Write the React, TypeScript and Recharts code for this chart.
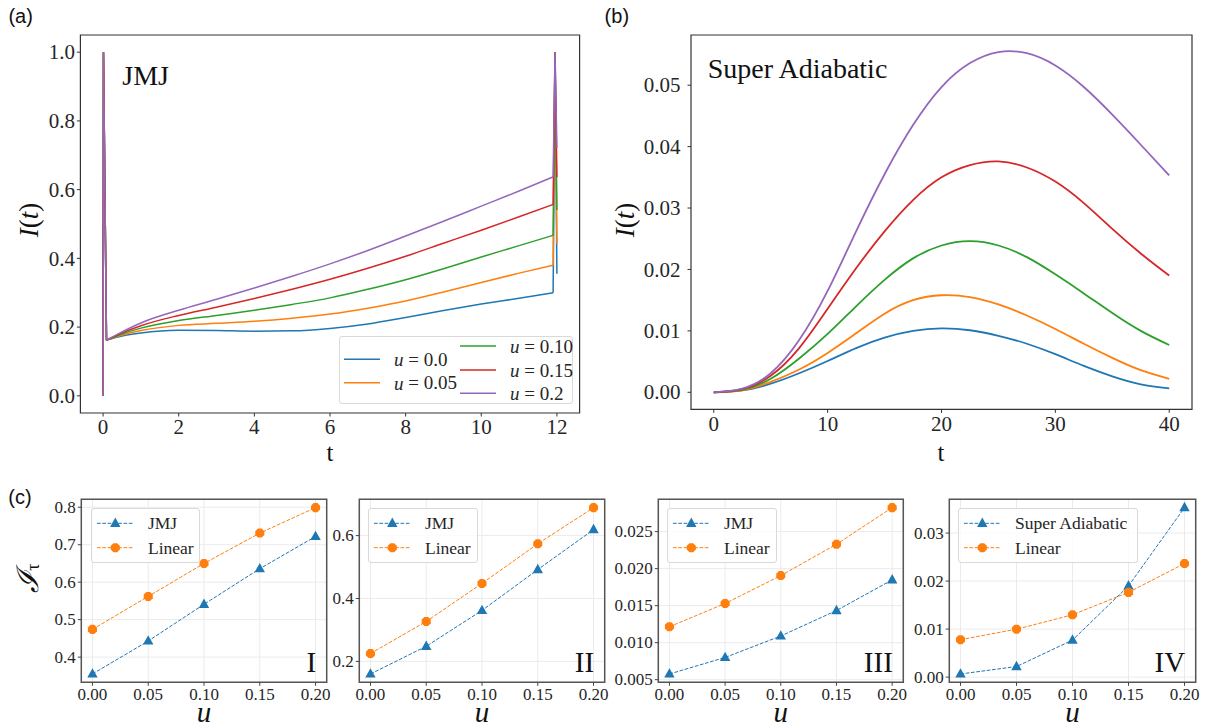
import React from 'react';
import { LineChart, Line, XAxis, YAxis, CartesianGrid, ReferenceArea, Legend } from 'recharts';

const BLUE = '#1f77b4';
const ORANGE = '#ff7f0e';
const GREEN = '#2ca02c';
const RED = '#d62728';
const PURPLE = '#9467bd';

const SERIF = '"Liberation Serif", "DejaVu Serif", serif';
const SANS = '"Liberation Sans", Arial, sans-serif';
const INK = '#262626';

// u values shared by all panels
const U_KEYS = ['u0', 'u05', 'u10', 'u15', 'u20'];
const U_TEXT = ['0.0', '0.05', '0.10', '0.15', '0.2'];
const U_COLORS = [BLUE, ORANGE, GREEN, RED, PURPLE];

// (a) JMJ protocol, I(t); the first three and last three points are the switching spikes
const T_JMJ = [0, 0.01, 0.09, 0.5, 1, 2, 3, 4, 5, 6, 7, 8, 9, 10, 11, 11.9, 11.95, 12];
const JMJ_U0 = [0, 1, 0.162, 0.174, 0.183, 0.191, 0.19, 0.188, 0.189, 0.196, 0.209, 0.228, 0.248, 0.267, 0.284, 0.3, 1, 0.355];
const JMJ_U05 = [0, 1, 0.162, 0.177, 0.19, 0.205, 0.211, 0.217, 0.226, 0.238, 0.255, 0.276, 0.302, 0.33, 0.357, 0.38, 1, 0.443];
const JMJ_U10 = [0, 1, 0.162, 0.18, 0.197, 0.219, 0.234, 0.249, 0.266, 0.285, 0.31, 0.338, 0.37, 0.404, 0.437, 0.467, 1, 0.541];
const JMJ_U15 = [0, 1, 0.162, 0.183, 0.204, 0.234, 0.258, 0.283, 0.31, 0.339, 0.371, 0.406, 0.444, 0.482, 0.521, 0.557, 1, 0.636];
const JMJ_U20 = [0, 1, 0.162, 0.186, 0.212, 0.249, 0.281, 0.314, 0.348, 0.384, 0.423, 0.465, 0.508, 0.552, 0.596, 0.637, 1, 0.722];
const SPIKE_HEAD = 2; // last index of the opening spike
const SPIKE_TAIL = 15; // first index of the closing spike

// (b) super adiabatic protocol, I(t)
const T_SA = [0, 2.5, 5, 7.5, 10, 12.5, 15, 17.5, 20, 22.5, 25, 27.5, 30, 32.5, 35, 37.5, 40];
const SA_U0 = [0, 0.0003, 0.0014, 0.0031, 0.0051, 0.0072, 0.0089, 0.01, 0.0104, 0.0101, 0.0092, 0.0079, 0.0062, 0.0043, 0.0026, 0.0013, 0.00065];
const SA_U05 = [0, 0.0003, 0.0017, 0.0037, 0.0064, 0.0096, 0.0128, 0.015, 0.0158, 0.0155, 0.0143, 0.0125, 0.0103, 0.0079, 0.0056, 0.0036, 0.0022];
const SA_U10 = [0, 0.0004, 0.0022, 0.0055, 0.0095, 0.014, 0.0183, 0.0218, 0.0239, 0.0246, 0.0239, 0.022, 0.0192, 0.0161, 0.0129, 0.01, 0.0077];
const SA_U15 = [0, 0.0005, 0.0027, 0.0072, 0.0136, 0.0202, 0.0262, 0.0313, 0.035, 0.037, 0.0376, 0.0366, 0.0343, 0.0308, 0.0266, 0.0226, 0.019];
const SA_U20 = [0, 0.0006, 0.0031, 0.0085, 0.0165, 0.0262, 0.0355, 0.0435, 0.0497, 0.0536, 0.0554, 0.0552, 0.0532, 0.0497, 0.0452, 0.0403, 0.0353];

// (c) final-time values vs u
const U_VALUES = [0, 0.05, 0.1, 0.15, 0.2];
const I_JMJ = [0.355, 0.443, 0.541, 0.636, 0.722];
const I_LIN = [0.474, 0.562, 0.65, 0.731, 0.799];
const II_JMJ = [0.16, 0.248, 0.362, 0.492, 0.619];
const II_LIN = [0.225, 0.327, 0.448, 0.574, 0.689];
const III_JMJ = [0.00577, 0.008, 0.0109, 0.01434, 0.01848];
const III_LIN = [0.01215, 0.01529, 0.01906, 0.02329, 0.02824];
const IV_SA = [0.00065, 0.0022, 0.0077, 0.019, 0.0353];
const IV_LIN = [0.0078, 0.00997, 0.01298, 0.01765, 0.02365];

// body keys hold the smooth part, "<key>s" keys hold the spikes (null elsewhere)
const buildRows = (ts: number[], curves: number[][], spikes: boolean) =>
  ts.map((t, i) => {
    const row: Record<string, number | null> = { t };
    U_KEYS.forEach((k, j) => {
      const v = curves[j][i];
      if (!spikes) {
        row[k] = v;
        return;
      }
      row[k] = i >= SPIKE_HEAD && i <= SPIKE_TAIL ? v : null;
      row[`${k}s`] = i <= SPIKE_HEAD || i >= SPIKE_TAIL ? v : null;
    });
    return row;
  });

// matplotlib-style 5% margins around the data
const padDomain = (vals: number[]): [number, number] => {
  const lo = Math.min(...vals);
  const hi = Math.max(...vals);
  const m = (hi - lo) * 0.05;
  return [lo - m, hi + m];
};

const serifTick = (size: number, fmt: (v: number) => string, isX: boolean) => (p: any) => (
  <text
    key={`${p.index}`}
    x={p.x}
    y={p.y}
    dy={isX ? '0.71em' : '0.34em'}
    textAnchor={p.textAnchor}
    fontFamily={SERIF}
    fontSize={size}
    fill={INK}
  >
    {fmt(p.payload.value)}
  </text>
);

const Triangle = ({ cx, cy, color }: { cx: number; cy: number; color: string }) => (
  <path d={`M${cx},${cy - 5.8} L${cx + 5.2},${cy + 3.6} L${cx - 5.2},${cy + 3.6} Z`} fill={color} />
);

const Octagon = ({ cx, cy, color }: { cx: number; cy: number; color: string }) => {
  const r = 4.9;
  const pts = Array.from({ length: 8 }, (_, k) => {
    const a = (Math.PI / 8) * (2 * k + 1);
    return `${cx + r * Math.cos(a)},${cy + r * Math.sin(a)}`;
  }).join(' ');
  return <polygon points={pts} fill={color} />;
};

const UText = ({ v }: { v: string }) => (
  <>
    <tspan fontStyle="italic">u</tspan>
    {` = ${v}`}
  </>
);

function CurvesLegend() {
  const rows = [
    { col: 0, y: 23.3 },
    { col: 0, y: 46.7 },
    { col: 1, y: 10 },
    { col: 1, y: 34 },
    { col: 1, y: 57.3 },
  ];
  return (
    <div
      style={{
        width: 234,
        height: 68,
        boxSizing: 'border-box',
        border: '1px solid #d9d9d9',
        borderRadius: 3,
        background: 'rgba(255,255,255,0.8)',
      }}
    >
      <svg width={234} height={68} style={{ position: 'absolute', left: 0, top: 0 }}>
        {rows.map((r, i) => {
          const x = r.col === 0 ? 5 : 121;
          return (
            <g key={U_KEYS[i]}>
              <line x1={x} x2={x + 36} y1={r.y} y2={r.y} stroke={U_COLORS[i]} strokeWidth={1.5} />
              <text x={x + 50} y={r.y} dominantBaseline="central" fontFamily={SERIF} fontSize={19} fill={INK}>
                <UText v={U_TEXT[i]} />
              </text>
            </g>
          );
        })}
      </svg>
    </div>
  );
}

function MarkerLegend({ width, mainName }: { width: number; mainName: string }) {
  const entries = [
    { name: mainName, color: BLUE, tri: true },
    { name: 'Linear', color: ORANGE, tri: false },
  ];
  return (
    <div
      style={{
        width,
        height: 55,
        boxSizing: 'border-box',
        border: '1px solid #d9d9d9',
        borderRadius: 3,
        background: 'rgba(255,255,255,0.8)',
      }}
    >
      <svg width={width} height={55} style={{ position: 'absolute', left: 0, top: 0 }}>
        {entries.map((e, i) => {
          const y = 15.3 + i * 24.4;
          return (
            <g key={e.name}>
              <line x1={6} x2={42.3} y1={y} y2={y} stroke={e.color} strokeWidth={1} strokeDasharray="3.7 1.6" />
              {e.tri ? <Triangle cx={24.3} cy={y} color={e.color} /> : <Octagon cx={24.3} cy={y} color={e.color} />}
              <text x={57} y={y} dominantBaseline="central" fontFamily={SERIF} fontSize={17.5} fill={INK}>
                {e.name}
              </text>
            </g>
          );
        })}
      </svg>
    </div>
  );
}

type Box = { left: number; top: number; width: number; height: number };
type Frame = { x0: number; x1: number; y0: number; y1: number };

function CurvePanel({
  box,
  frame,
  ts,
  curves,
  xTicks,
  yTicks,
  yDigits,
  strokeWidth,
  yTickMargin,
  spikes,
}: {
  box: Box;
  frame: Frame;
  ts: number[];
  curves: number[][];
  xTicks: number[];
  yTicks: number[];
  yDigits: number;
  strokeWidth: number;
  yTickMargin: number;
  spikes: boolean;
}) {
  const rows = buildRows(ts, curves, spikes);
  const xDom = padDomain(ts);
  const yDom = padDomain(curves.flat());
  return (
    <div style={{ position: 'absolute', left: box.left, top: box.top, fontFamily: SERIF }}>
      <LineChart
        width={box.width}
        height={box.height}
        data={rows}
        margin={{ top: frame.y0 - box.top, right: box.left + box.width - frame.x1, bottom: 0, left: 0 }}
      >
        <XAxis
          type="number"
          dataKey="t"
          domain={xDom}
          ticks={xTicks}
          height={box.top + box.height - frame.y1}
          tickSize={3.5}
          tickMargin={3}
          tick={serifTick(21, (v) => String(v), true)}
          axisLine={false}
          tickLine={{ stroke: '#333' }}
        />
        <YAxis
          type="number"
          domain={yDom}
          ticks={yTicks}
          width={frame.x0 - box.left}
          tickSize={3.5}
          tickMargin={yTickMargin}
          tick={serifTick(21, (v) => v.toFixed(yDigits), false)}
          axisLine={false}
          tickLine={{ stroke: '#333' }}
        />
        {U_KEYS.flatMap((k, i) => {
          const lines = [
            <Line
              key={k}
              type={spikes ? 'monotone' : 'natural'}
              dataKey={k}
              stroke={U_COLORS[i]}
              strokeWidth={strokeWidth}
              dot={false}
              activeDot={false}
              isAnimationActive={false}
            />,
          ];
          if (spikes) {
            lines.push(
              <Line
                key={`${k}s`}
                type="linear"
                dataKey={`${k}s`}
                stroke={U_COLORS[i]}
                strokeWidth={strokeWidth}
                dot={false}
                activeDot={false}
                connectNulls={false}
                isAnimationActive={false}
              />
            );
          }
          return lines;
        })}
        <ReferenceArea
          x1={xDom[0]}
          x2={xDom[1]}
          y1={yDom[0]}
          y2={yDom[1]}
          fill="none"
          stroke="#333"
          strokeWidth={1.2}
          ifOverflow="visible"
        />
        {spikes && (
          <Legend
            layout="horizontal"
            verticalAlign="middle"
            align="center"
            wrapperStyle={{ left: 339 - box.left, top: 336 - box.top, width: 234, height: 68 }}
            content={() => <CurvesLegend />}
          />
        )}
      </LineChart>
    </div>
  );
}

const C_TOP = 480;
const C_HEIGHT = 248;
const C_Y0 = 499.3;
const C_Y1 = 682.3;

function ScanPanel({
  left,
  width,
  x0,
  x1,
  main,
  lin,
  mainName,
  yTicks,
  yDigits,
  legendX,
  legendW,
}: {
  left: number;
  width: number;
  x0: number;
  x1: number;
  main: number[];
  lin: number[];
  mainName: string;
  yTicks: number[];
  yDigits: number;
  legendX: number;
  legendW: number;
}) {
  const rows = U_VALUES.map((u, i) => ({ u, main: main[i], lin: lin[i] }));
  const xDom = padDomain(U_VALUES);
  const yDom = padDomain([...main, ...lin]);
  return (
    <div style={{ position: 'absolute', left, top: C_TOP, fontFamily: SERIF }}>
      <LineChart
        width={width}
        height={C_HEIGHT}
        data={rows}
        margin={{ top: C_Y0 - C_TOP, right: left + width - x1, bottom: 0, left: 0 }}
      >
        <CartesianGrid stroke="#ebebeb" strokeWidth={1} />
        <XAxis
          type="number"
          dataKey="u"
          domain={xDom}
          ticks={U_VALUES}
          height={C_TOP + C_HEIGHT - C_Y1}
          tickSize={3.5}
          tickMargin={2.5}
          tick={serifTick(17, (v) => v.toFixed(2), true)}
          axisLine={false}
          tickLine={{ stroke: '#444' }}
        />
        <YAxis
          type="number"
          domain={yDom}
          ticks={yTicks}
          width={x0 - left}
          tickSize={3.5}
          tickMargin={2}
          tick={serifTick(17, (v) => v.toFixed(yDigits), false)}
          axisLine={false}
          tickLine={{ stroke: '#444' }}
        />
        <Line
          type="linear"
          dataKey="main"
          stroke={BLUE}
          strokeWidth={1}
          strokeDasharray="3.7 1.6"
          dot={(p: any) => <Triangle key={`m${p.index}`} cx={p.cx} cy={p.cy} color={BLUE} />}
          activeDot={false}
          isAnimationActive={false}
        />
        <Line
          type="linear"
          dataKey="lin"
          stroke={ORANGE}
          strokeWidth={1}
          strokeDasharray="3.7 1.6"
          dot={(p: any) => <Octagon key={`l${p.index}`} cx={p.cx} cy={p.cy} color={ORANGE} />}
          activeDot={false}
          isAnimationActive={false}
        />
        <ReferenceArea
          x1={xDom[0]}
          x2={xDom[1]}
          y1={yDom[0]}
          y2={yDom[1]}
          fill="none"
          stroke="#555"
          strokeWidth={1.5}
          ifOverflow="visible"
        />
        <Legend
          layout="horizontal"
          verticalAlign="middle"
          align="center"
          wrapperStyle={{ left: legendX - left, top: 508 - C_TOP, width: legendW, height: 55 }}
          content={() => <MarkerLegend width={legendW} mainName={mainName} />}
        />
      </LineChart>
    </div>
  );
}

const SCAN_PANELS = [
  { left: 0, width: 340, x0: 81.3, x1: 326.7, main: I_JMJ, lin: I_LIN, mainName: 'JMJ', yTicks: [0.4, 0.5, 0.6, 0.7, 0.8], yDigits: 1, legendX: 90.7, legendW: 109.3, numeral: 'I' },
  { left: 310, width: 300, x0: 359.3, x1: 604.7, main: II_JMJ, lin: II_LIN, mainName: 'JMJ', yTicks: [0.2, 0.4, 0.6], yDigits: 1, legendX: 368.3, legendW: 110, numeral: 'II' },
  { left: 610, width: 300, x0: 658.3, x1: 903.3, main: III_JMJ, lin: III_LIN, mainName: 'JMJ', yTicks: [0.005, 0.01, 0.015, 0.02, 0.025], yDigits: 3, legendX: 666.7, legendW: 110, numeral: 'III' },
  { left: 910, width: 297, x0: 949.3, x1: 1195.7, main: IV_SA, lin: IV_LIN, mainName: 'Super Adiabatic', yTicks: [0, 0.01, 0.02, 0.03], yDigits: 2, legendX: 958.3, legendW: 180, numeral: 'IV' },
];

const IofT = () => (
  <>
    <tspan fontStyle="italic">I</tspan>(<tspan fontStyle="italic">t</tspan>)
  </>
);

export default function App() {
  return (
    <div style={{ position: 'absolute', left: 0, top: 0, width: 1207, height: 728, background: '#fff' }}>
      <CurvePanel
        box={{ left: 0, top: 0, width: 600, height: 470 }}
        frame={{ x0: 80.4, x1: 579.6, y0: 35, y1: 413 }}
        ts={T_JMJ}
        curves={[JMJ_U0, JMJ_U05, JMJ_U10, JMJ_U15, JMJ_U20]}
        xTicks={[0, 2, 4, 6, 8, 10, 12]}
        yTicks={[0, 0.2, 0.4, 0.6, 0.8, 1]}
        yDigits={1}
        strokeWidth={1.5}
        yTickMargin={2}
        spikes
      />
      <CurvePanel
        box={{ left: 600, top: 0, width: 607, height: 470 }}
        frame={{ x0: 691, x1: 1192, y0: 35, y1: 409.3 }}
        ts={T_SA}
        curves={[SA_U0, SA_U05, SA_U10, SA_U15, SA_U20]}
        xTicks={[0, 10, 20, 30, 40]}
        yTicks={[0, 0.01, 0.02, 0.03, 0.04, 0.05]}
        yDigits={2}
        strokeWidth={1.8}
        yTickMargin={7}
        spikes={false}
      />
      {SCAN_PANELS.map((p) => (
        <ScanPanel key={p.numeral} {...p} />
      ))}

      <svg width={1207} height={728} style={{ position: 'absolute', left: 0, top: 0, pointerEvents: 'none' }}>
        <text x={8.4} y={22.5} fontFamily={SANS} fontSize={20} fill="#111">(a)</text>
        <text x={604.6} y={22.5} fontFamily={SANS} fontSize={20} fill="#111">(b)</text>
        <text x={8.3} y={504} fontFamily={SANS} fontSize={20} fill="#111">(c)</text>

        <text x={122.3} y={85} fontFamily={SERIF} fontSize={28} fill="#111">JMJ</text>
        <text x={707.7} y={77.5} fontFamily={SERIF} fontSize={28} fill="#111">Super Adiabatic</text>

        <text x={28.7} y={220} transform="rotate(-90 28.7 220)" textAnchor="middle" dominantBaseline="central" fontFamily={SERIF} fontSize={27} fill="#111">
          <IofT />
        </text>
        <text x={625} y={220} transform="rotate(-90 625 220)" textAnchor="middle" dominantBaseline="central" fontFamily={SERIF} fontSize={27} fill="#111">
          <IofT />
        </text>
        <text x={330} y={461} textAnchor="middle" fontFamily={SERIF} fontSize={25} fill="#111">t</text>
        <text x={941} y={461} textAnchor="middle" fontFamily={SERIF} fontSize={25} fill="#111">t</text>

        <text x={27} y={578} transform="rotate(-90 27 578)" textAnchor="middle" dominantBaseline="central" fontFamily={SERIF} fontSize={30} fill="#111">
          <tspan fontStyle="italic">ℐ</tspan>
          <tspan fontSize={18} dy={6}>τ</tspan>
        </text>
        {SCAN_PANELS.map((p) => (
          <g key={p.numeral}>
            <text x={(p.x0 + p.x1) / 2} y={722} textAnchor="middle" fontFamily={SERIF} fontStyle="italic" fontSize={29} fill="#111">
              u
            </text>
            <text x={p.x1 - 10.5} y={671.7} textAnchor="end" fontFamily={SERIF} fontSize={29} fill="#111">
              {p.numeral}
            </text>
          </g>
        ))}
      </svg>
    </div>
  );
}
